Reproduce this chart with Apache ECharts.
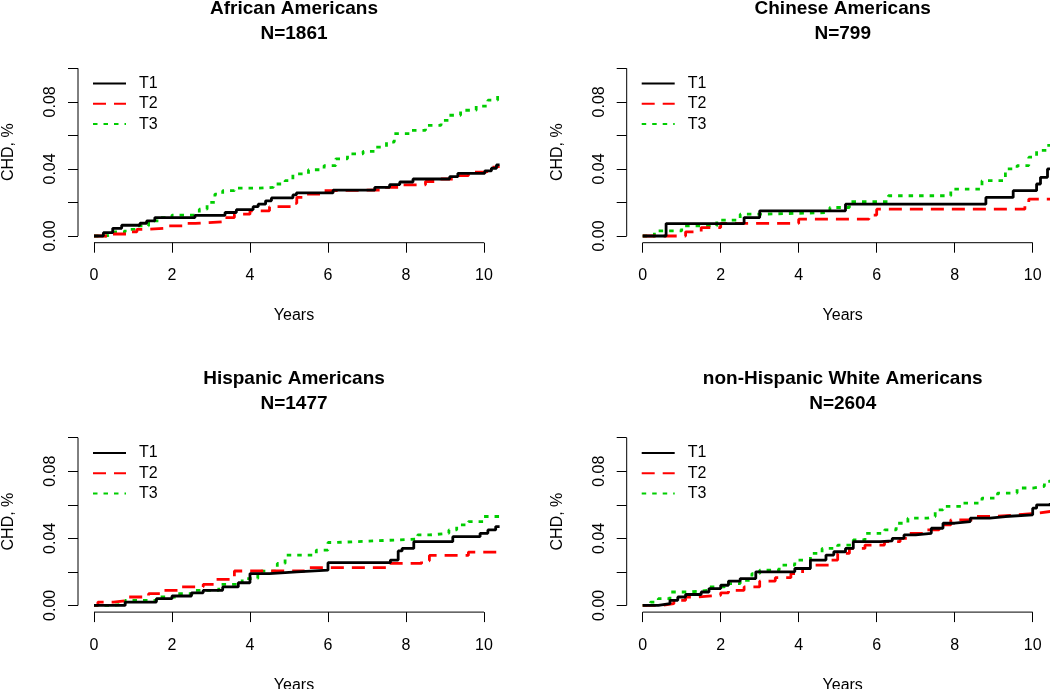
<!DOCTYPE html>
<html>
<head>
<meta charset="utf-8">
<script src="https://cdn.jsdelivr.net/npm/echarts@6/dist/echarts.min.js"></script>
<style>
  html, body { margin: 0; padding: 0; background: #fff; }
  #main { width: 1050px; height: 689px; }
</style>
</head>
<body>
<div id="main"></div>
<script>
// panel titles
var titles = ["African Americans\nN=1861", "Chinese Americans\nN=799",
              "Hispanic Americans\nN=1477", "non-Hispanic White Americans\nN=2604"];
var groups = ["T1", "T2", "T3"];
var xTicks = [0, 2, 4, 6, 8, 10];
var yTicks = [0, 0.02, 0.04, 0.06, 0.08, 0.1];
var yLabels = [0, 0.04, 0.08];

// [years, cumulative CHD]
var afT1 = [[0,0],[0.24,0.002],[0.48,0.0046],[0.71,0.0064],[1.18,0.0076],[1.35,0.009],[1.56,0.011],
  [2.59,0.0123],[3.36,0.014],[3.65,0.0157],[4.08,0.0175],[4.21,0.019],[4.4,0.021],[4.55,0.0227],
  [5.1,0.0245],[5.19,0.0257],[6.13,0.0273],[7.2,0.029],[7.58,0.0306],[7.84,0.0322],[8.18,0.034],
  [9.12,0.0354],[9.33,0.0374],[10.02,0.0388],[10.19,0.0404],[10.32,0.0424],[10.4,0.0424]];
var afT2 = [[0,0],[0.45,0.0012],[0.9,0.0024],[1.1,0.004],[1.4,0.0048],[1.9,0.006],[2.3,0.0075],
  [2.6,0.0085],[3.3,0.011],[3.6,0.013],[4.0,0.015],[4.5,0.0175],[5.1,0.0195],[5.2,0.023],[5.5,0.025],
  [5.8,0.027],[6.0,0.0275],[7.5,0.029],[7.9,0.0305],[8.5,0.0325],[8.9,0.034],[9.3,0.036],[9.6,0.038],
  [10.0,0.039],[10.2,0.041],[10.3,0.0415],[10.4,0.0415]];
var afT3 = [[0,0],[0.3,0.001],[0.5,0.0024],[0.8,0.004],[1.1,0.006],[1.4,0.009],[1.7,0.011],[2.0,0.0125],
  [2.6,0.0135],[2.7,0.016],[2.9,0.02],[3.1,0.025],[3.3,0.027],[3.6,0.0285],[4.2,0.029],[4.6,0.031],
  [4.9,0.033],[5.1,0.037],[5.5,0.0395],[5.9,0.042],[6.2,0.046],[6.5,0.049],[6.9,0.0505],[7.2,0.053],
  [7.5,0.056],[7.7,0.061],[8.1,0.063],[8.5,0.066],[8.9,0.069],[9.1,0.072],[9.4,0.075],[9.8,0.0775],
  [10.1,0.081],[10.35,0.084],[10.4,0.084]];

var chT1 = [[0,0],[0.6,0.0074],[2.6,0.011],[3.0,0.015],[5.2,0.019],[8.8,0.023],[9.5,0.027],
  [10.1,0.031],[10.2,0.035],[10.38,0.04],[10.45,0.04]];
var chT2 = [[0,0],[1.1,0.0025],[1.5,0.005],[2.0,0.0075],[4.0,0.01],[5.8,0.0125],[6.0,0.016],
  [9.8,0.019],[9.9,0.022],[10.45,0.022]];
var chT3 = [[0,0],[0.3,0.003],[1.0,0.006],[1.9,0.0095],[2.5,0.013],[3.0,0.014],[4.8,0.017],[5.3,0.0205],
  [6.3,0.024],[7.9,0.028],[8.7,0.033],[9.3,0.04],[9.6,0.042],[9.9,0.047],[10.1,0.051],[10.35,0.054],
  [10.45,0.054]];

var hiT1 = [[0,0],[0.8,0.002],[1.6,0.004],[2.0,0.0056],[2.5,0.0075],[2.8,0.009],[3.3,0.011],[3.7,0.0135],
  [4.0,0.019],[4.5,0.02],[5.2,0.021],[6.0,0.0255],[7.6,0.027],[7.8,0.0325],[7.9,0.034],[8.2,0.038],
  [9.2,0.041],[9.9,0.043],[10.1,0.045],[10.3,0.047],[10.4,0.047]];
var hiT2 = [[0,0],[0.1,0.002],[0.5,0.003],[0.9,0.005],[1.4,0.007],[1.8,0.009],[2.2,0.011],[2.8,0.0125],
  [3.1,0.0155],[3.5,0.017],[3.6,0.0205],[5.4,0.0225],[7.5,0.025],[8.4,0.0266],[8.6,0.0298],
  [9.6,0.0318],[10.4,0.0318]];
var hiT3 = [[0,0],[0.5,0.001],[0.8,0.003],[1.6,0.005],[2.1,0.007],[2.6,0.009],[3.2,0.0125],[3.8,0.016],
  [4.2,0.0204],[4.7,0.025],[4.9,0.03],[5.7,0.033],[6.0,0.0375],[6.2,0.0385],[7.2,0.0395],[8.3,0.042],
  [8.6,0.043],[9.1,0.045],[9.3,0.048],[9.6,0.05],[10.0,0.053],[10.4,0.053]];

var whT1 = [[0,0],[0.4,0.001],[0.7,0.003],[0.9,0.005],[1.1,0.0065],[1.5,0.008],[1.7,0.01],[2.0,0.012],
  [2.2,0.0145],[2.5,0.016],[2.9,0.02],[3.9,0.022],[4.3,0.027],[4.7,0.03],[4.9,0.032],[5.2,0.034],
  [5.4,0.038],[6.1,0.0385],[6.4,0.04],[6.7,0.042],[7.0,0.043],[7.4,0.046],[7.7,0.049],[8.0,0.05],
  [8.4,0.052],[8.9,0.053],[9.3,0.054],[10.0,0.058],[10.1,0.06],[10.45,0.061]];
var whT2 = [[0,0],[0.5,0.001],[0.8,0.003],[1.1,0.005],[1.4,0.006],[2.0,0.0075],[2.2,0.009],[2.6,0.011],
  [3.0,0.0145],[3.4,0.0165],[3.8,0.019],[4.1,0.022],[4.4,0.024],[4.8,0.027],[5.0,0.031],[5.3,0.034],
  [5.7,0.036],[6.2,0.038],[6.6,0.04],[6.8,0.043],[7.3,0.045],[7.6,0.048],[7.9,0.051],[8.5,0.053],
  [9.0,0.054],[9.6,0.055],[10.1,0.056],[10.45,0.056]];
var whT3 = [[0,0],[0.2,0.002],[0.4,0.004],[0.7,0.008],[1.2,0.009],[1.7,0.011],[2.1,0.013],[2.5,0.015],
  [2.8,0.019],[3.0,0.021],[3.5,0.024],[3.9,0.027],[4.3,0.031],[4.6,0.034],[5.0,0.036],[5.4,0.039],
  [5.7,0.043],[6.2,0.045],[6.5,0.049],[6.8,0.052],[7.3,0.053],[7.5,0.057],[7.7,0.059],[8.2,0.061],
  [8.7,0.064],[9.1,0.067],[9.6,0.07],[10.0,0.071],[10.3,0.074],[10.45,0.075]];

var panelData = [[afT1, afT2, afT3], [chT1, chT2, chT3], [hiT1, hiT2, hiT3], [whT1, whT2, whT3]];

var FONT = "Liberation Sans";
var XMIN = -0.41, XMAX = 10.667, YMIN = -0.004, YMAX = 0.104;
var lefts = [78, 626.7, 78, 626.7];
var tops = [61.6, 61.6, 431, 431];
var styles = [
  { color: "#000000", width: 2.8, type: "solid" },
  { color: "#ff0000", width: 2.8, type: [13, 8] },
  { color: "#00cd00", width: 2.8, type: [4.5, 6] }
];

var chart = echarts.init(document.getElementById("main"));

var option = {
  backgroundColor: "#ffffff",
  animation: false,
  title: [], grid: [], xAxis: [], yAxis: [], legend: [], series: []
};

for (var i = 0; i < 4; i++) {
  option.grid.push({ left: lefts[i], top: tops[i], width: 432, height: 181.1, outerBoundsMode: "none" });
  option.title.push({
    text: titles[i], left: lefts[i] + 216, top: tops[i] - 65, textAlign: "center", padding: 0,
    textStyle: { fontFamily: FONT, fontSize: 19, fontWeight: "bold", color: "#000", lineHeight: 25 }
  });
  option.xAxis.push({
    gridIndex: i, type: "value", min: XMIN, max: XMAX,
    name: "Years", nameLocation: "middle", nameGap: 65, nameMoveOverlap: false,
    nameTextStyle: { fontFamily: FONT, fontSize: 16, color: "#000" },
    axisLine: { show: false, onZero: false },
    axisTick: { show: true, length: 10, customValues: xTicks, lineStyle: { color: "#000", width: 1 } },
    axisLabel: { customValues: xTicks, margin: 25, fontFamily: FONT, fontSize: 16, color: "#000" },
    splitLine: { show: false }
  });
  option.yAxis.push({
    gridIndex: i, type: "value", min: YMIN, max: YMAX,
    name: "CHD, %", nameLocation: "middle", nameGap: 61, nameRotate: 90, nameMoveOverlap: false,
    nameTextStyle: { fontFamily: FONT, fontSize: 16, color: "#000" },
    axisLine: { show: false, onZero: false },
    axisTick: { show: true, length: 10, customValues: yTicks, lineStyle: { color: "#000", width: 1 } },
    axisLabel: {
      customValues: yLabels, rotate: 90, margin: 19, fontFamily: FONT, fontSize: 16, color: "#000",
      formatter: function (v) { return v.toFixed(2); }
    },
    splitLine: { show: false }
  });
  option.legend.push({
    data: groups, orient: "vertical", left: lefts[i] + 14, top: tops[i] + 13.9, padding: 0,
    itemWidth: 33, itemHeight: 14, itemGap: 4.3, selectedMode: false,
    itemStyle: { opacity: 0 },
    textStyle: { fontFamily: FONT, fontSize: 16, color: "#000", padding: [0, 0, 0, 8] }
  });
  for (var g = 0; g < 3; g++) {
    option.series.push({
      name: groups[g], type: "line", step: "end", xAxisIndex: i, yAxisIndex: i,
      data: panelData[i][g], symbol: "none", showSymbol: false,
      lineStyle: styles[g], itemStyle: { color: styles[g].color }, z: 3 - g
    });
  }
}

chart.setOption(option);

// R-style axis lines: only from first to last tick
var lines = [];
for (var k = 0; k < 4; k++) {
  var a = chart.convertToPixel({ gridIndex: k }, [xTicks[0], YMIN]);
  var b = chart.convertToPixel({ gridIndex: k }, [xTicks[xTicks.length - 1], YMIN]);
  var c = chart.convertToPixel({ gridIndex: k }, [XMIN, yTicks[0]]);
  var d = chart.convertToPixel({ gridIndex: k }, [XMIN, yTicks[yTicks.length - 1]]);
  lines.push({ type: "line", shape: { x1: a[0], y1: a[1], x2: b[0], y2: b[1] }, style: { stroke: "#000", lineWidth: 1 } });
  lines.push({ type: "line", shape: { x1: c[0], y1: c[1], x2: d[0], y2: d[1] }, style: { stroke: "#000", lineWidth: 1 } });
}
chart.setOption({ graphic: lines });
</script>
</body>
</html>
